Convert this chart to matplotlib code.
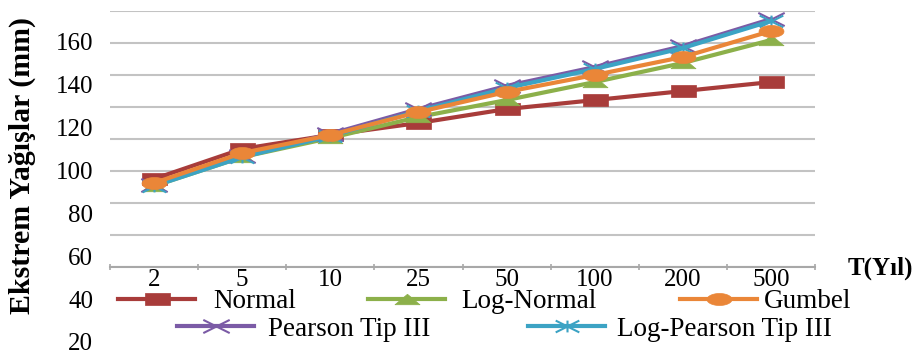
import numpy as np
import matplotlib
matplotlib.use("Agg")
import matplotlib.pyplot as plt
from matplotlib.lines import Line2D
from matplotlib.path import Path

plt.rcParams['font.family'] = ['Liberation Serif', 'DejaVu Serif']

# ---- data ----
periods = ["2", "5", "10", "25", "50", "100", "200", "500"]
normal = [96.1, 110.1, 116.6, 122.2, 128.7, 132.9, 137.1, 141.3]
log_normal = [92.8, 106.3, 115.2, 125.0, 132.9, 141.3, 150.2, 160.9]
gumbel = [94.2, 108.2, 116.6, 127.3, 136.7, 144.6, 153.0, 165.1]
pearson3 = [93.3, 106.8, 117.1, 128.7, 139.5, 148.3, 158.1, 170.7]
log_pearson3 = [92.8, 106.3, 116.1, 127.8, 138.5, 147.4, 157.2, 169.8]
ytick_labels = [20, 40, 60, 80, 100, 120, 140, 160]

series_names = ["Normal", "Log-Normal", "Gumbel", "Pearson Tip III", "Log-Pearson Tip III"]
colors = ["#a83c3a", "#8cb04a", "#ea8638", "#7b5ba6", "#3ca3c4"]

# wide (horizontally stretched) marker shapes, as in the reference image
M, L, C = Path.MOVETO, Path.LINETO, Path.CLOSEPOLY
rect_m = Path([(-1, -0.45), (1, -0.45), (1, 0.45), (-1, 0.45), (-1, -0.45)], [M, L, L, L, C])
tri_m = Path([(-1, -0.42), (1, -0.42), (0, 0.42), (-1, -0.42)], [M, L, L, C])
_t = np.linspace(0, 2 * np.pi, 41)
ell_m = Path(np.column_stack([np.cos(_t), 0.48 * np.sin(_t)]))
x_m = Path([(-1, -0.5), (1, 0.5), (-1, 0.5), (1, -0.5)], [M, L, M, L])
ast_m = Path([(-1, -0.5), (1, 0.5), (-1, 0.5), (1, -0.5), (0, -0.5), (0, 0.5)],
             [M, L, M, L, M, L])

W, H = 916, 356
fig = plt.figure(figsize=(W / 100, H / 100), dpi=100)

ax_l, ax_r, ax_b, ax_t = 110, 815, 267, 11
ax = fig.add_axes([ax_l / W, 1 - ax_b / H, (ax_r - ax_l) / W, (ax_b - ax_t) / H])

x = np.arange(len(periods))
lw = 3.0
specs = [
    (normal, dict(marker=rect_m, ms=18, mec=colors[0], mfc=colors[0], mew=0.5), 3),
    (log_normal, dict(marker=tri_m, ms=18, mec=colors[1], mfc=colors[1], mew=0.5), 4),
    (gumbel, dict(marker=ell_m, ms=18, mec=colors[2], mfc=colors[2], mew=0.5), 7),
    (pearson3, dict(marker=x_m, ms=19, mew=1.5, mec=colors[3], mfc='none'), 5),
    (log_pearson3, dict(marker=ast_m, ms=17, mew=1.5, mec=colors[4], mfc='none'), 6),
]
handles = []
for (vals, mk, z), name, c in zip(specs, series_names, colors):
    ax.plot(x, vals, color=c, lw=lw, zorder=z, clip_on=False, **mk)
    handles.append(Line2D([], [], color=c, lw=lw, **mk, label=name))

ymin, ymax = 55.0, 174.47
ax.set_ylim(ymin, ymax)
ax.set_xlim(-0.5, len(periods) - 0.5)
ax.set_yticks(np.linspace(ymin, ymax, 9))
ax.set_yticklabels([])
ax.grid(axis='y', color='#c3c3c3', lw=1.5, zorder=0)
ax.tick_params(axis='y', length=0)
for s in ['left', 'right', 'top']:
    ax.spines[s].set_visible(False)
ax.spines['bottom'].set_color('#a8a8a8')
ax.spines['bottom'].set_linewidth(1.5)

ax.set_xticks(x)
ax.set_xticklabels(periods, fontsize=18)
ax.set_xticks(np.arange(-0.5, len(periods)), minor=True)
ax.tick_params(axis='x', which='major', length=0, pad=1.5)
ax.tick_params(axis='x', which='minor', length=5, width=1.2, color='#a8a8a8', direction='inout')

# y tick labels (separate label axis)
lab = fig.add_axes([100 / W, 1 - 342 / H, 0.001, 300 / H])
lab.set_ylim(20, 160)
lab.set_yticks(ytick_labels)
lab.set_yticklabels([str(v) for v in ytick_labels], fontsize=18)
lab.set_xticks([])
lab.tick_params(axis='y', length=0, pad=5)
for s in lab.spines.values():
    s.set_visible(False)
lab.patch.set_visible(False)

fig.text(22 / W, 1 - 166 / H, "Ekstrem Yağışlar (mm)", rotation=90, fontsize=21.5,
         fontweight='bold', ha='center', va='center')
fig.text(848 / W, 1 - 268 / H, "T(Yıl)", fontsize=18, fontweight='bold',
         ha='left', va='center')

# legend entries, each placed on its own
leg_pos = [(118, 302, 0.65), (368, 302, 0.6), (680, 302, 0.25),
           (177, 329, 0.5), (528, 329, 0.45)]
for h, (lx, ly, pad) in zip(handles, leg_pos):
    fig.legend(handles=[h], frameon=False, fontsize=19.5, handlelength=2.85,
               handletextpad=pad, borderpad=0, borderaxespad=0, loc='center left',
               bbox_to_anchor=(lx / W, 1 - ly / H))

fig.savefig("out.png", dpi=100)
